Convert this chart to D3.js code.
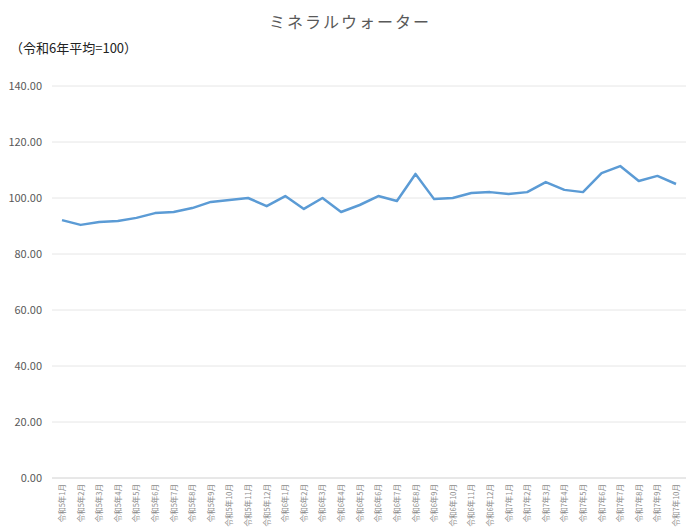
<!DOCTYPE html>
<html>
<head>
<meta charset="UTF-8" />
<style>
  body { margin: 0; background: #fff; font-family: "Noto Sans CJK JP", sans-serif; }
</style>
</head>
<body>
<svg></svg>
<script src="https://d3js.org/d3.v7.min.js"></script>
<script>
  const months = [];
  const years = ["5", "6", "7"];
  years.forEach((y) => {
    for (let m = 1; m <= 12; m++) {
      if (y === "7" && m > 10) break;
      months.push("令和" + y + "年" + m + "月");
    }
  });
  const values = [92.1, 90.4, 91.4, 91.8, 92.9, 94.6, 95.0, 96.4, 98.6, 99.3, 100.0, 97.1,
    100.7, 96.1, 100.0, 95.0, 97.5, 100.7, 98.9, 108.6, 99.6, 100.0, 101.8, 102.1,
    101.4, 102.1, 105.7, 102.9, 102.1, 108.9, 111.4, 106.1, 107.9, 105.0];
  const yTicks = [0, 20, 40, 60, 80, 100, 120, 140];

  const width = 700, height = 528;
  const svg = d3.select("svg").attr("width", width).attr("height", height);

  const x = d3.scalePoint().domain(months).range([62, 676]);
  const y = d3.scaleLinear().domain([0, 140]).range([478, 86]);

  svg.append("text").attr("x", 350).attr("y", 28).attr("text-anchor", "middle")
    .attr("font-size", 16).attr("fill", "#595959").attr("letter-spacing", 2).text("ミネラルウォーター");
  svg.append("text").attr("x", 10).attr("y", 53)
    .attr("font-size", 13).attr("fill", "#222").text("（令和6年平均=100）");

  // gridlines
  svg.append("g").selectAll("line").data(yTicks).enter().append("line")
    .attr("x1", 52).attr("x2", 686)
    .attr("y1", (d) => y(d)).attr("y2", (d) => y(d))
    .attr("stroke", (d) => (d === 0 ? "#d0d0d0" : "#e6e6e6")).attr("stroke-width", 1);

  svg.append("g").selectAll("text").data(yTicks).enter().append("text")
    .attr("x", 42).attr("y", (d) => y(d) + 4).attr("text-anchor", "end")
    .attr("font-size", 11).attr("fill", "#595959").text((d) => d.toFixed(2));

  svg.append("g").selectAll("text").data(months).enter().append("text")
    .attr("transform", (d) => "translate(" + (x(d) + 3) + ",484) rotate(-90)")
    .attr("text-anchor", "end").attr("font-size", 7.5).attr("fill", "#8c8c8c").text((d) => d);

  const line = d3.line().x((d, i) => x(months[i])).y((d) => y(d));
  svg.append("path").datum(values).attr("d", line)
    .attr("fill", "none").attr("stroke", "#5b9bd5").attr("stroke-width", 2.5)
    .attr("stroke-linejoin", "round");
</script>
</body>
</html>
